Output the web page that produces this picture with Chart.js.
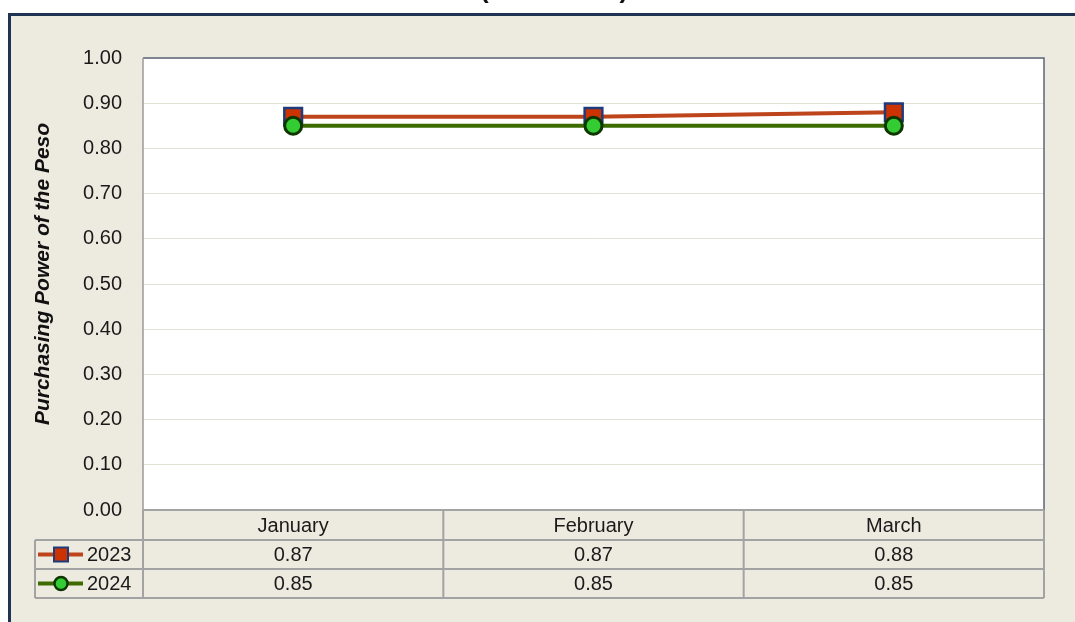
<!DOCTYPE html>
<html>
<head>
<meta charset="utf-8">
<script src="https://cdn.jsdelivr.net/npm/chart.js@4.4.1/dist/chart.umd.min.js"></script>
<style>
  html, body { margin: 0; padding: 0; background: #fff; overflow: hidden; }
  #wrap { position: relative; width: 1075px; height: 622px; }
  #title { position: absolute; left: 0; width: 1108px; top: -26px; text-align: center;
           font: bold 26px "Liberation Sans", Arial, sans-serif; line-height: 30px; color: #111; z-index: 2; }
  canvas { position: absolute; left: 0; top: 0; }
</style>
</head>
<body>
<div id="wrap">
  <div id="title">(2018 = 100)</div>
  <canvas id="chart" width="1075" height="622"></canvas>
</div>
<script>
const months = ['January', 'February', 'March'];
const values2023 = [0.87, 0.87, 0.88];
const values2024 = [0.85, 0.85, 0.85];
const yTicks = [0, 0.1, 0.2, 0.3, 0.4, 0.5, 0.6, 0.7, 0.8, 0.9, 1.0];
const yTitle = 'Purchasing Power of the Peso';

const series = [
    { label: '2023', values: values2023, line: '#bd441b', fill: '#cc3300', edge: '#1f3b7b', shape: 'rect' },
    { label: '2024', values: values2024, line: '#3d6b00', fill: '#33cc33', edge: '#0f3600', shape: 'circle' }
];

const FONT = '"Liberation Sans", Arial, sans-serif';

// beige panel, navy frame, white plot area, axis title
const backgroundPlugin = {
    id: 'panel',
    beforeDraw(chart) {
        const { ctx, chartArea: a } = chart;
        ctx.save();
        ctx.fillStyle = '#ffffff';
        ctx.fillRect(0, 0, chart.width, chart.height);
        ctx.fillStyle = '#edeae0';
        ctx.fillRect(9, 14, chart.width, chart.height);
        ctx.strokeStyle = '#1f3352';
        ctx.lineWidth = 3;
        ctx.beginPath();
        ctx.moveTo(9.5, chart.height + 5);
        ctx.lineTo(9.5, 14.5);
        ctx.lineTo(chart.width + 5, 14.5);
        ctx.stroke();
        ctx.fillStyle = '#ffffff';
        ctx.fillRect(a.left, a.top, a.right - a.left, a.bottom - a.top);

        ctx.translate(43, 274);
        ctx.rotate(-Math.PI / 2);
        ctx.font = 'italic bold 21px ' + FONT;
        ctx.fillStyle = '#111';
        ctx.textAlign = 'center';
        ctx.textBaseline = 'middle';
        ctx.fillText(yTitle, 0, 0);
        ctx.restore();
    },
    afterDatasetsDraw(chart) {
        const { ctx, chartArea: a } = chart;
        ctx.save();
        ctx.lineWidth = 1.5;
        ctx.strokeStyle = '#5d6577';
        ctx.beginPath();
        ctx.moveTo(a.left, a.top);
        ctx.lineTo(a.right, a.top);
        ctx.lineTo(a.right, a.bottom);
        ctx.stroke();
        ctx.strokeStyle = '#9a9a9a';
        ctx.beginPath();
        ctx.moveTo(a.left, a.top);
        ctx.lineTo(a.left, a.bottom);
        ctx.stroke();
        ctx.restore();
    }
};

function drawMarker(ctx, s, x, y) {
    ctx.fillStyle = s.fill;
    ctx.strokeStyle = s.edge;
    ctx.beginPath();
    if (s.shape === 'rect') {
        ctx.lineWidth = 2;
        ctx.rect(x - 7, y - 7, 14, 14);
    } else {
        ctx.lineWidth = 2.5;
        ctx.arc(x, y, 6.5, 0, Math.PI * 2);
    }
    ctx.fill();
    ctx.stroke();
}

// data table under the plot
const tablePlugin = {
    id: 'dataTable',
    afterDraw(chart) {
        const { ctx, chartArea: a } = chart;
        const xs = chart.scales.x;
        const rows = [a.bottom, a.bottom + 30, a.bottom + 59, a.bottom + 88];
        const legendLeft = 35;
        const colW = (a.right - a.left) / months.length;
        ctx.save();

        ctx.strokeStyle = '#a3a3a3';
        ctx.lineWidth = 2;
        ctx.beginPath();
        ctx.moveTo(a.left, rows[0]); ctx.lineTo(a.right, rows[0]);
        for (let r = 1; r < rows.length; r++) {
            ctx.moveTo(legendLeft, rows[r]); ctx.lineTo(a.right, rows[r]);
        }
        ctx.moveTo(legendLeft, rows[1]); ctx.lineTo(legendLeft, rows[3]);
        for (let c = 0; c <= months.length; c++) {
            const x = a.left + c * colW;
            ctx.moveTo(x, rows[0]); ctx.lineTo(x, rows[3]);
        }
        ctx.stroke();

        ctx.font = '20px ' + FONT;
        ctx.fillStyle = '#1a1a1a';
        ctx.textAlign = 'center';
        ctx.textBaseline = 'middle';
        months.forEach((m, i) => {
            const cx = xs.getPixelForValue(i);
            ctx.fillText(m, cx, (rows[0] + rows[1]) / 2 + 1);
            series.forEach((s, j) => {
                ctx.fillText(s.values[i].toFixed(2), cx, (rows[j + 1] + rows[j + 2]) / 2 + 1);
            });
        });

        series.forEach((s, j) => {
            const cy = (rows[j + 1] + rows[j + 2]) / 2;
            ctx.strokeStyle = s.line;
            ctx.lineWidth = 4;
            ctx.beginPath();
            ctx.moveTo(38, cy); ctx.lineTo(83, cy);
            ctx.stroke();
            drawMarker(ctx, s, 61, cy);
            ctx.fillStyle = '#1a1a1a';
            ctx.textAlign = 'left';
            ctx.fillText(s.label, 87, cy + 1);
        });
        ctx.restore();
    }
};

new Chart(document.getElementById('chart'), {
    type: 'line',
    data: {
        labels: months,
        datasets: series.map((s, i) => ({
            label: s.label,
            data: s.values,
            borderColor: s.line,
            borderWidth: 4,
            pointStyle: s.shape,
            pointRadius: s.shape === 'rect' ? 12.5 : 8.5,
            pointBackgroundColor: s.fill,
            pointBorderColor: s.edge,
            pointBorderWidth: s.shape === 'rect' ? 2.5 : 3,
            tension: 0,
            order: series.length - i
        }))
    },
    options: {
        responsive: false,
        animation: false,
        events: [],
        layout: { padding: { left: 0, top: 58, right: 31, bottom: 112 } },
        plugins: { legend: { display: false }, tooltip: { enabled: false }, title: { display: false } },
        scales: {
            x: {
                offset: true,
                ticks: { display: false },
                grid: { display: false },
                border: { display: false },
                afterFit: scale => { scale.height = 0; }
            },
            y: {
                min: 0,
                max: 1,
                afterBuildTicks: scale => { scale.ticks = yTicks.map(v => ({ value: v })); },
                afterFit: scale => { scale.width = 143; },
                ticks: {
                    padding: 21,
                    color: '#1a1a1a',
                    font: { family: FONT, size: 20 },
                    callback: v => Number(v).toFixed(2)
                },
                grid: { color: '#e2dfd3', lineWidth: 1, drawTicks: false },
                border: { display: false }
            }
        }
    },
    plugins: [backgroundPlugin, tablePlugin]
});
</script>
</body>
</html>
